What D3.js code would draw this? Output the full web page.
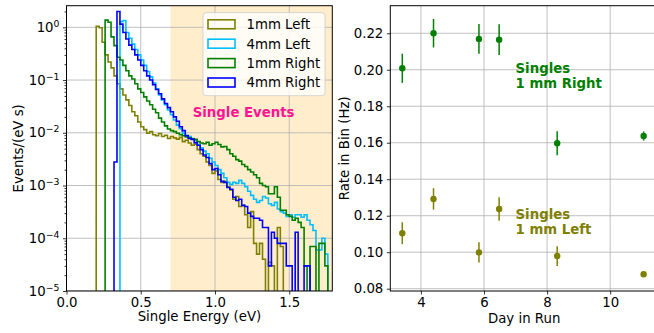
<!DOCTYPE html>
<html>
<head>
<meta charset="utf-8">
<script src="https://cdn.jsdelivr.net/npm/d3@7/dist/d3.min.js"></script>
<style>
body { margin: 0; background: #fff; }
svg { font-family: "DejaVu Sans", sans-serif; }
.tick line { stroke: #000; stroke-width: 0.8; }
.tick text { font-size: 13.3px; fill: #000; font-family: "DejaVu Sans", sans-serif; }
.domain { display: none; }
.grid { stroke: #b0b0b0; stroke-width: 0.8; }
</style>
</head>
<body>
<script>
// ---------- data ----------
// histogram binning (eV): first bin edge and bin width
var binLo = 0.20, binW = 0.02;

var histNames = ["1mm Left", "4mm Left", "1mm Right", "4mm Right"];
var histColors = ["#808000", "#00bfff", "#008000", "#0000ff"];

// Events/(eV s) per bin, bins start at 0.20 eV
var left1mm = [
  1.05, 0.98, 0.52, 0.30, 0.22, 0.17, 0.12, 0.085, 0.068, 0.052,
  0.042, 0.033, 0.025, 0.021, 0.016, 0.013, 0.0115, 0.0098, 0.0105, 0.0092,
  0.0088, 0.0097, 0.0085, 0.0090, 0.0078, 0.0085, 0.0080, 0.0076, 0.0082, 0.0068,
  0.0072, 0.0064, 0.0058, 0.0061, 0.0048, 0.0040, 0.0036, 0.0028, 0.0024, 0.0017,
  0.0019, 0.0013, 0.00115, 0.0012, 0.00095, 0.00082, 0.00055, 0.00062, 0.00040, 0.00042,
  0.00028, 0.00016, 0.00032, 0.00008, 0.00005, 0.00008, 0.00004, 0, 0.000035, 0.00003,
  0, 0.00016, 0.00007, 0, 0, 0, 0, 0, 0, 0,
  0, 0, 0, 0, 0, 0, 0, 0, 0, 0
];
var left4mm = [
  0, 0, 0, 0, 0, 0, 0, 0, 1.28, 1.35,
  0.80, 0.62, 0.48, 0.38, 0.30, 0.24, 0.19, 0.145, 0.115, 0.088,
  0.068, 0.052, 0.042, 0.034, 0.027, 0.022, 0.0175, 0.014, 0.012, 0.0098,
  0.0090, 0.0085, 0.0078, 0.0072, 0.0060, 0.0052, 0.0045, 0.0040, 0.0033, 0.0028,
  0.0024, 0.0020, 0.0017, 0.0014, 0.00115, 0.00105, 0.00115, 0.0011, 0.00125, 0.0011,
  0.00095, 0.00078, 0.00065, 0.00055, 0.00048, 0.00052, 0.00062, 0.00058, 0.00045, 0.00042,
  0.00048, 0.00036, 0.00032, 0.00030, 0.00026, 0.00028, 0.00025, 0.00028, 0.00028, 0.00025,
  0.00028, 0.00022, 0.00018, 0.00014, 0.00006, 0.00006, 0.0001, 0.00005, 0, 0
];
var right1mm = [
  0, 0, 0, 1.37, 1.25, 0.66, 0.45, 0.27, 0.24, 0.19,
  0.15, 0.12, 0.105, 0.085, 0.068, 0.058, 0.048, 0.040, 0.034, 0.028,
  0.024, 0.019, 0.016, 0.0135, 0.0118, 0.0110, 0.0105, 0.0098, 0.0092, 0.0088,
  0.0083, 0.0080, 0.0077, 0.0075, 0.0068, 0.0064, 0.0062, 0.0066, 0.0058, 0.0062,
  0.0066, 0.0060, 0.0054, 0.0055, 0.0048, 0.0040, 0.0036, 0.0031, 0.0029, 0.0025,
  0.0023, 0.0020, 0.0018, 0.0016, 0.0014, 0.0011, 0.0010, 0.00095, 0.0007, 0.0007,
  0.00095, 0.0006, 0.00034, 0.00034, 0.00028, 0.00026, 0.00022, 0.00024, 0.0002, 0.00016,
  0.00003, 0, 0.00007, 0.00007, 0, 0.00008, 0.00008, 0.00003, 0, 0
];
var right4mm = [
  0, 0, 0, 0, 0, 0, 0.0028, 2.0, 1.15, 0.80,
  0.60, 0.46, 0.38, 0.30, 0.24, 0.19, 0.15, 0.12, 0.10, 0.082,
  0.066, 0.055, 0.044, 0.036, 0.030, 0.025, 0.020, 0.0165, 0.013, 0.011,
  0.0088, 0.0078, 0.0075, 0.0065, 0.0058, 0.0048, 0.0038, 0.0034, 0.0026, 0.0020,
  0.0021, 0.0016, 0.0012, 0.00115, 0.00092, 0.00085, 0.0006, 0.00052, 0.00055, 0.00042,
  0.00040, 0.00030, 0.00026, 0.00024, 0.00024, 0.00022, 0.00016, 0.00016, 0.00003, 0.00013,
  0.0001, 0.00008, 0.00008, 0.00008, 0.00003, 0.00003, 0, 0.00013, 0, 0,
  0.00003, 0.00003, 0, 0, 0, 0, 0, 0, 0, 0
];
var histSeries = [left1mm, left4mm, right1mm, right4mm];

// single-event energy window (eV)
var singleWindow = [0.7, 2.0];

// tick values
var energyTicks = [0, 0.5, 1.0, 1.5];
var decadeTicks = [1e-5, 1e-4, 1e-3, 1e-2, 1e-1, 1];
var dayTicks = [4, 6, 8, 10];
var rateTicks = [0.08, 0.10, 0.12, 0.14, 0.16, 0.18, 0.20, 0.22];

// rate vs day
var days = [3.41, 4.40, 5.84, 6.48, 8.32, 11.06];
var rateRight1mm = [0.2008, 0.2200, 0.2169, 0.2165, 0.1597, 0.1637];
var errRight1mm = [0.0080, 0.0078, 0.0082, 0.0084, 0.0066, 0.0025];
var rateLeft1mm = [0.1104, 0.1292, 0.0999, 0.1237, 0.0979, 0.0879];
var errLeft1mm = [0.0060, 0.0059, 0.0056, 0.0064, 0.0054, 0.0011];

// ---------- figure ----------
var width = 654, height = 333;
var svg = d3.select("body").append("svg")
    .attr("width", width)
    .attr("height", height);

// ===== left panel: energy spectra =====
var lx0 = 66.5, lx1 = 332.3, ly0 = 5.7, ly1 = 291;
var xE = d3.scaleLinear().domain([0, 1.79]).range([lx0, lx1]);
var yEv = d3.scaleLog().domain([1e-5, 2.57]).range([ly1, ly0]);

svg.append("clipPath").attr("id", "clipL")
  .append("rect")
    .attr("x", lx0).attr("y", ly0)
    .attr("width", lx1 - lx0).attr("height", ly1 - ly0);

var gL = svg.append("g").attr("clip-path", "url(#clipL)");

// shaded single-event window
gL.append("rect")
    .attr("x", xE(singleWindow[0]))
    .attr("y", ly0)
    .attr("width", xE(singleWindow[1]) - xE(singleWindow[0]))
    .attr("height", ly1 - ly0)
    .attr("fill", "orange")
    .attr("fill-opacity", 0.2);

// grid
gL.selectAll(".gx").data(energyTicks).enter().append("line")
    .attr("class", "grid")
    .attr("x1", d => xE(d)).attr("x2", d => xE(d))
    .attr("y1", ly0).attr("y2", ly1);
gL.selectAll(".gy").data(decadeTicks).enter().append("line")
    .attr("class", "grid")
    .attr("x1", lx0).attr("x2", lx1)
    .attr("y1", d => yEv(d)).attr("y2", d => yEv(d));

// step histograms; empty bins fall below the axis and get clipped
var floorVal = 1e-7;
function stepPoints(vals) {
  var pts = [[binLo, floorVal]];
  vals.forEach(function(v, i) {
    var y = v > 0 ? v : floorVal;
    pts.push([binLo + i * binW, y]);
    pts.push([binLo + (i + 1) * binW, y]);
  });
  pts.push([binLo + vals.length * binW, floorVal]);
  return pts;
}
var stepLine = d3.line()
    .x(d => xE(d[0]))
    .y(d => yEv(d[1]));

histSeries.forEach(function(vals, k) {
  gL.append("path")
    .datum(stepPoints(vals))
    .attr("d", stepLine)
    .attr("fill", "none")
    .attr("stroke", histColors[k])
    .attr("stroke-width", 1.6)
    .attr("stroke-linejoin", "miter");
});

// "Single Events" label
svg.append("text")
    .attr("x", xE(0.85))
    .attr("y", yEv(0.02))
    .attr("fill", "#ff1493")
    .attr("font-weight", "bold")
    .attr("font-size", "13.3px")
    .text("Single Events");

// legend
var leg = svg.append("g");
leg.append("rect")
    .attr("x", 203).attr("y", 12.7)
    .attr("width", 122).attr("height", 83)
    .attr("rx", 3)
    .attr("fill", "#fff").attr("fill-opacity", 0.8)
    .attr("stroke", "#cccccc").attr("stroke-width", 0.8);
histNames.forEach(function(name, k) {
  var cy = 24.3 + k * 19.4;
  leg.append("rect")
      .attr("x", 208).attr("y", cy - 4.5)
      .attr("width", 27).attr("height", 9)
      .attr("fill", "none")
      .attr("stroke", histColors[k])
      .attr("stroke-width", 1.6);
  leg.append("text")
      .attr("x", 246.5).attr("y", cy + 4.8)
      .attr("font-size", "13.3px")
      .text(name);
});

// axes
svg.append("g")
    .attr("transform", "translate(0," + ly1 + ")")
    .call(d3.axisBottom(xE).tickValues(energyTicks).tickSize(3.5).tickPadding(3.5)
      .tickFormat(d3.format(".1f")));

svg.append("g")
    .attr("transform", "translate(" + lx0 + ",0)")
    .call(d3.axisLeft(yEv).tickValues(decadeTicks).tickSize(3.5).tickFormat(""));

var minorTicks = [];
decadeTicks.forEach(function(d) {
  for (var m = 2; m < 10; m++) {
    if (d * m < 2.57) minorTicks.push(d * m);
  }
});
svg.append("g")
    .attr("transform", "translate(" + lx0 + ",0)")
    .call(d3.axisLeft(yEv).tickValues(minorTicks).tickSize(2).tickFormat(""))
    .selectAll("line").attr("stroke-width", 0.6);

// 10^n labels
decadeTicks.forEach(function(d) {
  var p = Math.round(Math.log10(d));
  var t = svg.append("text")
      .attr("x", lx0 - 7)
      .attr("y", yEv(d) + 4.7)
      .attr("text-anchor", "end")
      .attr("font-size", "13.3px");
  t.append("tspan").text("10");
  t.append("tspan")
      .attr("dy", -5)
      .attr("font-size", "9.3px")
      .text(p === 0 ? "0" : "\u2212" + (-p));
});

svg.append("rect")
    .attr("x", lx0).attr("y", ly0)
    .attr("width", lx1 - lx0).attr("height", ly1 - ly0)
    .attr("fill", "none").attr("stroke", "#000").attr("stroke-width", 1);

svg.append("text")
    .attr("x", (lx0 + lx1) / 2).attr("y", 321)
    .attr("text-anchor", "middle")
    .attr("font-size", "13.3px")
    .text("Single Energy (eV)");

svg.append("text")
    .attr("transform", "translate(22.5," + (ly0 + ly1) / 2 + ") rotate(-90)")
    .attr("text-anchor", "middle")
    .attr("font-size", "13.3px")
    .text("Events/(eV s)");

// ===== right panel: rate vs day =====
var rx0 = 390.3, rx1 = 657.5, ry0 = 5.7, ry1 = 291;
var xD = d3.scaleLinear().domain([3.03, 11.5]).range([rx0, rx1]);
var yR = d3.scaleLinear().domain([0.07874, 0.2351]).range([ry1, ry0]);

var gR = svg.append("g");

gR.selectAll(".gx").data(dayTicks).enter().append("line")
    .attr("class", "grid")
    .attr("x1", d => xD(d)).attr("x2", d => xD(d))
    .attr("y1", ry0).attr("y2", ry1);
gR.selectAll(".gy").data(rateTicks).enter().append("line")
    .attr("class", "grid")
    .attr("x1", rx0).attr("x2", rx1)
    .attr("y1", d => yR(d)).attr("y2", d => yR(d));

function drawErrSeries(vals, errs, color) {
  gR.selectAll(null).data(days).enter().append("line")
      .attr("x1", d => xD(d)).attr("x2", d => xD(d))
      .attr("y1", (d, i) => yR(vals[i] - errs[i]))
      .attr("y2", (d, i) => yR(vals[i] + errs[i]))
      .attr("stroke", color).attr("stroke-width", 1.5);
  gR.selectAll(null).data(days).enter().append("circle")
      .attr("cx", d => xD(d))
      .attr("cy", (d, i) => yR(vals[i]))
      .attr("r", 3.2)
      .attr("fill", color);
}
drawErrSeries(rateRight1mm, errRight1mm, "#008000");
drawErrSeries(rateLeft1mm, errLeft1mm, "#808000");

function drawLabel(lines, day, rate, color) {
  lines.forEach(function(s, i) {
    svg.append("text")
        .attr("x", xD(day))
        .attr("y", yR(rate) - (lines.length - 1 - i) * 15)
        .attr("fill", color)
        .attr("font-weight", "bold")
        .attr("font-size", "13.3px")
        .text(s);
  });
}
drawLabel(["Singles", "1 mm Right"], 7, 0.19, "#008000");
drawLabel(["Singles", "1 mm Left"], 7, 0.11, "#808000");

svg.append("g")
    .attr("transform", "translate(0," + ry1 + ")")
    .call(d3.axisBottom(xD).tickValues(dayTicks).tickSize(3.5).tickPadding(3.5)
      .tickFormat(d3.format("d")));
svg.append("g")
    .attr("transform", "translate(" + rx0 + ",0)")
    .call(d3.axisLeft(yR).tickValues(rateTicks).tickSize(3.5).tickPadding(3.5)
      .tickFormat(d3.format(".2f")));

svg.append("rect")
    .attr("x", rx0).attr("y", ry0)
    .attr("width", rx1 - rx0).attr("height", ry1 - ry0)
    .attr("fill", "none").attr("stroke", "#000").attr("stroke-width", 1);

svg.append("text")
    .attr("x", (rx0 + 654) / 2 + 2).attr("y", 323)
    .attr("text-anchor", "middle")
    .attr("font-size", "13.3px")
    .text("Day in Run");

svg.append("text")
    .attr("transform", "translate(348.5," + (ry0 + ry1) / 2 + ") rotate(-90)")
    .attr("text-anchor", "middle")
    .attr("font-size", "13.3px")
    .text("Rate in Bin (Hz)");
</script>
</body>
</html>
